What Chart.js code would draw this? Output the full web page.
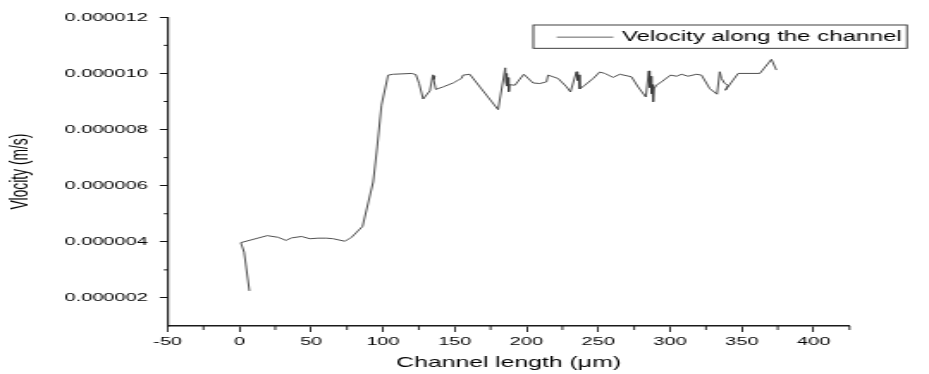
<!DOCTYPE html>
<html>
<head>
<meta charset="utf-8">
<script src="https://cdn.jsdelivr.net/npm/chart.js@4/dist/chart.umd.min.js"></script>
<style>
  html, body { margin: 0; padding: 0; background: #fff; overflow: hidden; }
  #wrap { position: absolute; left: 0; top: 0; width: 540px; height: 374px;
          transform: scaleX(1.7204); transform-origin: 0 0; }
</style>
</head>
<body>
<div id="wrap"><canvas id="c"></canvas></div>
<script>
// ---- data ----
const channelLength = [7, 3.3, 1, 19.4, 27, 32.4, 36.4, 43.3, 49.1, 54.9, 60.7, 65.3, 73.5, 78.1, 85.8, 93.2, 96, 99,
  103.6, 107.1, 119.9, 122.9, 125.2, 128, 132.7, 134.8, 136, 135.3, 136.8, 141.9, 148.9, 152.4, 154.7, 155.8, 160.5,
  180.2, 185.2, 185.6, 186.0, 186.6, 187.0, 187.6, 188.2, 191.9, 198.1, 204.6, 209.3, 213.9, 215, 222, 227.9, 230.6,
  234.8, 235.5, 236.2, 237.1, 240.6, 246.4, 251, 254.5, 260.3, 265, 273.1, 277.7, 283.1, 285.2, 285.8, 286.3, 287.1,
  287.6, 288.2, 288.8, 290.5, 294, 300.3, 304.5, 308, 312.5, 318.4, 321.9, 327.6, 332.7, 334.6, 335.8, 338.1, 340.4,
  338.5, 347.4, 362.5, 370.6, 374];
const velocity = [2.25e-6, 3.63e-6, 3.97e-6, 4.22e-6, 4.16e-6, 4.05e-6, 4.14e-6, 4.19e-6, 4.11e-6, 4.13e-6, 4.13e-6, 4.11e-6,
  4.02e-6, 4.16e-6, 4.55e-6, 6.13e-6, 7.38e-6, 8.87e-6,
  9.94e-6, 9.97e-6, 10.0e-6, 9.96e-6, 9.64e-6, 9.09e-6, 9.38e-6, 9.95e-6, 9.9e-6, 9.78e-6, 9.43e-6, 9.52e-6, 9.66e-6,
  9.76e-6, 9.82e-6, 9.94e-6, 9.97e-6,
  8.71e-6, 10.2e-6, 9.7e-6, 10.0e-6, 9.55e-6, 9.85e-6, 9.35e-6, 9.6e-6, 9.58e-6, 9.97e-6, 9.66e-6, 9.64e-6, 9.70e-6,
  9.94e-6, 9.82e-6, 9.52e-6, 9.34e-6,
  10.06e-6, 9.75e-6, 9.95e-6, 9.45e-6, 9.58e-6, 9.82e-6, 10.05e-6, 10.0e-6, 9.86e-6, 9.97e-6, 9.88e-6, 9.52e-6, 9.16e-6,
  10.09e-6, 9.5e-6, 9.9e-6, 9.28e-6,
  9.6e-6, 8.99e-6, 9.45e-6, 9.58e-6, 9.70e-6, 9.94e-6, 9.90e-6, 9.97e-6, 9.90e-6, 9.97e-6, 9.94e-6, 9.46e-6, 9.26e-6,
  10.06e-6, 9.82e-6, 9.64e-6, 9.58e-6,
  9.40e-6, 10.0e-6, 10.0e-6, 10.5e-6, 10.12e-6];
const seriesLabel = 'Velocity along the channel';
const xTitle = 'Channel length (\u03bcm)';
const yTitle = 'Vlocity (m/s)';
const xMajorTicks = [-50, 0, 50, 100, 150, 200, 250, 300, 350, 400];
const xMinorTicks = [-25, 25, 75, 125, 175, 225, 275, 325, 375, 425];
const yMajorTicks = [2e-6, 4e-6, 6e-6, 8e-6, 10e-6, 12e-6];
const yMinorTicks = [3e-6, 5e-6, 7e-6, 9e-6, 11e-6];

// ---- chart ----
const FONT = '"Liberation Sans", Arial, sans-serif';
const points = channelLength.map((x, i) => ({ x: x, y: velocity[i] }));

const minorTicksPlugin = {
  id: 'minorTicks',
  afterDraw(chart) {
    const ctx = chart.ctx, xs = chart.scales.x, ys = chart.scales.y;
    ctx.save();
    ctx.strokeStyle = '#111';
    ctx.lineWidth = 0.9;
    ctx.beginPath();
    xMinorTicks.forEach(v => {
      const p = xs.getPixelForValue(v);
      ctx.moveTo(p, xs.top); ctx.lineTo(p, xs.top + 4);
    });
    ctx.stroke();
    ctx.lineWidth = 1;
    ctx.beginPath();
    yMinorTicks.forEach(v => {
      const p = ys.getPixelForValue(v);
      ctx.moveTo(ys.right, p); ctx.lineTo(ys.right - 2.2, p);
    });
    ctx.stroke();
    ctx.restore();
  }
};

const boxLegendPlugin = {
  id: 'boxLegend',
  afterDraw(chart) {
    const ctx = chart.ctx, ds = chart.data.datasets[0];
    const L = { left: 310, top: 25, width: 217.2, height: 23.3, lineFrom: 323.6, lineTo: 356.5, textX: 361.4 };
    const cy = L.top + L.height / 2;
    ctx.save();
    ctx.strokeStyle = '#2a2a2a';
    ctx.lineWidth = 0.9;
    ctx.strokeRect(L.left, L.top, L.width, L.height);
    ctx.strokeStyle = ds.borderColor;
    ctx.lineWidth = 0.8;
    ctx.beginPath();
    ctx.moveTo(L.lineFrom, cy + 0.5); ctx.lineTo(L.lineTo, cy + 0.5);
    ctx.stroke();
    ctx.fillStyle = '#000';
    ctx.font = '14px ' + FONT;
    ctx.textBaseline = 'middle';
    ctx.fillText(ds.label, L.textX, cy + 0.5);
    ctx.restore();
  }
};

new Chart(document.getElementById('c'), {
  type: 'scatter',
  data: {
    datasets: [{
      label: seriesLabel,
      data: points,
      showLine: true,
      borderColor: '#3c3c3c',
      backgroundColor: '#3c3c3c',
      borderWidth: 0.9,
      pointRadius: 0,
      pointHoverRadius: 0,
      tension: 0
    }]
  },
  options: {
    responsive: true,
    maintainAspectRatio: false,
    animation: false,
    devicePixelRatio: 1,
    layout: { padding: { top: 17.3, right: 46.2, left: 0, bottom: 0 } },
    plugins: { legend: { display: false }, tooltip: { enabled: false } },
    scales: {
      x: {
        type: 'linear',
        position: 'bottom',
        min: -50, max: 425,
        afterFit(scale) { scale.height = 48; },
        afterBuildTicks(scale) { scale.ticks = xMajorTicks.map(v => ({ value: v })); },
        ticks: {
          autoSkip: false, maxRotation: 0, padding: 2.5, color: '#000',
          font: { family: FONT, size: 11.6 },
          callback: v => String(v)
        },
        grid: { display: true, drawOnChartArea: false, drawTicks: true, tickLength: 6, tickColor: '#111', tickWidth: 0.9 },
        border: { display: true, color: '#1a1a1a', width: 1.5 },
        title: { display: true, text: xTitle, color: '#000', font: { family: FONT, size: 14.4 }, padding: { top: 0, bottom: 2.6 } }
      },
      y: {
        type: 'linear',
        position: 'left',
        min: 1e-6, max: 12e-6,
        afterFit(scale) { scale.width = 97.4; },
        afterBuildTicks(scale) { scale.ticks = yMajorTicks.map(v => ({ value: v })); },
        ticks: {
          autoSkip: false, padding: 7, color: '#000',
          font: { family: FONT, size: 11.6 },
          callback: v => Number(v).toFixed(6)
        },
        grid: { display: true, drawOnChartArea: false, drawTicks: true, tickLength: 4.5, tickColor: '#111', tickWidth: 1 },
        border: { display: true, color: '#1a1a1a', width: 1.2 },
        title: { display: true, text: yTitle, color: '#000', font: { family: FONT, size: 13.8 }, padding: { top: 4.2, bottom: 0 } }
      }
    }
  },
  plugins: [minorTicksPlugin, boxLegendPlugin]
});
</script>
</body>
</html>
